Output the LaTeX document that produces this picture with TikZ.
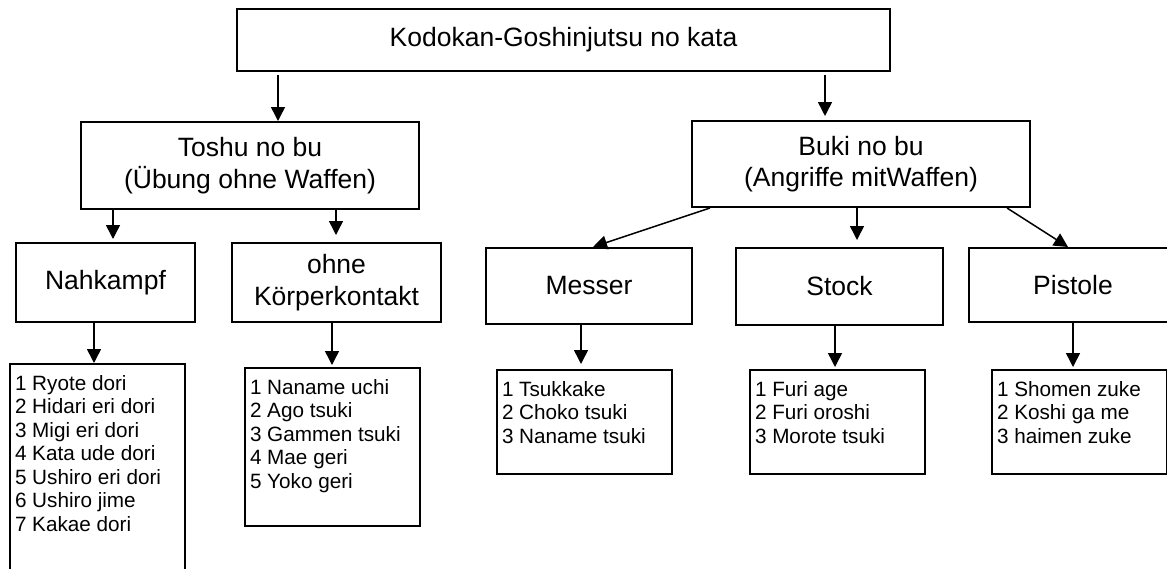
\documentclass[tikz,border=0pt]{standalone}
\usepackage{fontspec}
\setmainfont{Liberation Sans}
\usetikzlibrary{arrows.meta, positioning}
\newcommand{\liste}[2]{\parbox[t][#1][t]{165pt}{\fontsize{20.7}{23.5}\selectfont #2}}

\begin{document}
\begin{tikzpicture}[x=1pt, y=-1pt,
    box/.style={rectangle, draw, line width=2pt, inner sep=0pt, align=center,
                font=\fontsize{26.5}{31.7}\selectfont},
    listbox/.style={rectangle, draw, line width=2pt, anchor=north west,
                    inner xsep=5pt, inner ysep=11pt},
    arr/.style={-{Triangle[length=14pt, width=14pt]}, line width=1.5pt}]

    \clip (0,0) rectangle (1167,568);

    % Top
    \node[box, minimum width=653pt, minimum height=62pt] (kata) at (563.5,40) {Kodokan-Goshinjutsu no kata};

    % Second level
    \node[box, minimum width=338pt, minimum height=87pt] (toshu) at (250,165.5) {Toshu no bu\\(Übung ohne Waffen)};
    \node[box, minimum width=338pt, minimum height=86pt] (buki) at (861,164) {Buki no bu\\(Angriffe mitWaffen)};

    % Third level
    \node[box, minimum width=179pt, minimum height=79pt] (nah) at (105.5,282.5) {Nahkampf};
    \node[box, minimum width=209pt, minimum height=79pt] (ohne) at (336.5,282.5) {ohne\\Körperkontakt};
    \node[box, minimum width=206pt, minimum height=76pt] (messer) at (589,286) {Messer};
    \node[box, minimum width=207pt, minimum height=77pt] (stock) at (839.5,286.5) {Stock};
    \node[box, minimum width=208pt, minimum height=74pt] (pistole) at (1073,285) {Pistole};

    % Lists
    \node[listbox] (nahlist) at (9,363) {\liste{240pt}{1 Ryote dori\\2 Hidari eri dori\\3 Migi eri dori\\4 Kata ude dori\\5 Ushiro eri dori\\6 Ushiro jime\\7 Kakae dori}};
    \node[listbox] (ohnelist) at (244,367) {\liste{136pt}{1 Naname uchi\\2 Ago tsuki\\3 Gammen tsuki\\4 Mae geri\\5 Yoko geri}};
    \node[listbox] (messerlist) at (496,369) {\liste{82pt}{1 Tsukkake\\2 Choko tsuki\\3 Naname tsuki}};
    \node[listbox] (stocklist) at (749,369) {\liste{82pt}{1 Furi age\\2 Furi oroshi\\3 Morote tsuki}};
    \node[listbox] (pistolelist) at (991,369) {\liste{82pt}{1 Shomen zuke\\2 Koshi ga me\\3 haimen zuke}};

    % Arrows
    \draw[arr, shorten <=3pt] (kata.south -| 278,0) -- (toshu.north -| 278,0);
    \draw[arr, shorten <=3pt, shorten >=4pt] (kata.south -| 825,0) -- (buki.north -| 825,0);
    \draw[arr, shorten >=3pt] (toshu.south -| 113,0) -- (nah.north -| 113,0);
    \draw[arr, shorten >=7pt] (toshu.south -| 336,0) -- (ohne.north -| 336,0);
    \draw[arr] (buki.south -| 710,0) -- (messer.north -| 593,0);
    \draw[arr, shorten >=7pt] (buki.south -| 857,0) -- (stock.north -| 857,0);
    \draw[arr] (buki.south -| 1007,0) -- (pistole.north -| 1068,0);

    \draw[arr] (nah.south -| 94,0) -- (nahlist.north -| 94,0);
    \draw[arr, shorten >=2pt] (ohne.south -| 332,0) -- (ohnelist.north -| 332,0);
    \draw[arr, shorten >=5pt] (messer.south -| 581,0) -- (messerlist.north -| 581,0);
    \draw[arr, shorten >=2pt] (stock.south -| 835,0) -- (stocklist.north -| 835,0);
    \draw[arr, shorten >=2pt] (pistole.south -| 1073,0) -- (pistolelist.north -| 1073,0);
\end{tikzpicture}
\end{document}
